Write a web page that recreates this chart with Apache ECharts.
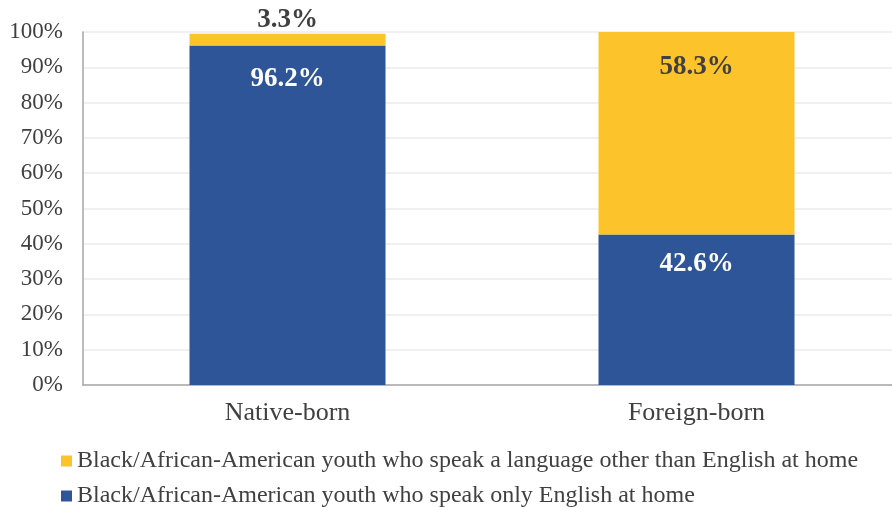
<!DOCTYPE html>
<html>
<head>
<meta charset="utf-8">
<script src="https://cdn.jsdelivr.net/npm/echarts@6/dist/echarts.min.js"></script>
<style>
  html, body { margin: 0; padding: 0; background: #fff; overflow: hidden; }
  /* plot runs a little past the right edge in the original */
  #chart { width: 901px; height: 508px; }
</style>
</head>
<body>
<div id="chart"></div>
<script>
const categories = ['Native-born', 'Foreign-born'];
const englishOnly = [96.2, 42.6];
const otherLanguage = [3.3, 58.3];
const seriesNames = [
  'Black/African-American youth who speak only English at home',
  'Black/African-American youth who speak a language other than English at home'
];

const font = '"Liberation Serif", "Times New Roman", serif';
const chart = echarts.init(document.getElementById('chart'));

// one legend per row, yellow first like the original
const legendRow = (name, top) => ({
  left: 56,
  top: top,
  itemWidth: 11,
  itemHeight: 11,
  icon: 'rect',
  data: [name],
  textStyle: { fontFamily: font, fontSize: 24, color: '#404040' }
});

chart.setOption({
  animation: false,
  textStyle: { fontFamily: font },
  grid: { left: 83, right: 0, top: 32, bottom: 123 },
  legend: [legendRow(seriesNames[1], 444), legendRow(seriesNames[0], 479)],
  xAxis: {
    type: 'category',
    data: categories,
    axisTick: { show: false },
    axisLine: { lineStyle: { color: '#a6a6a6', width: 1.5 } },
    axisLabel: { fontFamily: font, fontSize: 26, color: '#404040', margin: 15 }
  },
  yAxis: {
    type: 'value',
    min: 0,
    max: 100,
    interval: 10,
    axisLine: { show: true, lineStyle: { color: '#a6a6a6', width: 1.5 } },
    axisTick: { show: false },
    splitLine: { lineStyle: { color: '#ebebeb', width: 1.5 } },
    axisLabel: {
      fontFamily: font, fontSize: 23, color: '#404040', margin: 20,
      formatter: v => v + '%'
    }
  },
  series: [
    {
      name: seriesNames[0],
      type: 'bar',
      stack: 'total',
      barWidth: 196,
      data: englishOnly.map(v => ({ value: v, label: { distance: v > 90 ? 20 : 16 } })),
      itemStyle: { color: '#2e5597' },
      label: {
        show: true,
        position: 'insideTop',
        fontFamily: font,
        fontSize: 27,
        fontWeight: 'bold',
        color: '#ffffff',
        formatter: p => p.value.toFixed(1) + '%'
      }
    },
    {
      name: seriesNames[1],
      type: 'bar',
      stack: 'total',
      // small segment label sits above the bar, large one inside
      data: otherLanguage.map(v => v < 10
        ? { value: v, label: { position: 'top', distance: 0 } }
        : { value: v, label: { position: 'insideTop', distance: 22 } }),
      itemStyle: { color: '#fdc32b' },
      label: {
        show: true,
        fontFamily: font,
        fontSize: 27,
        fontWeight: 'bold',
        color: '#404040',
        formatter: p => p.value.toFixed(1) + '%'
      }
    }
  ]
});
</script>
</body>
</html>
